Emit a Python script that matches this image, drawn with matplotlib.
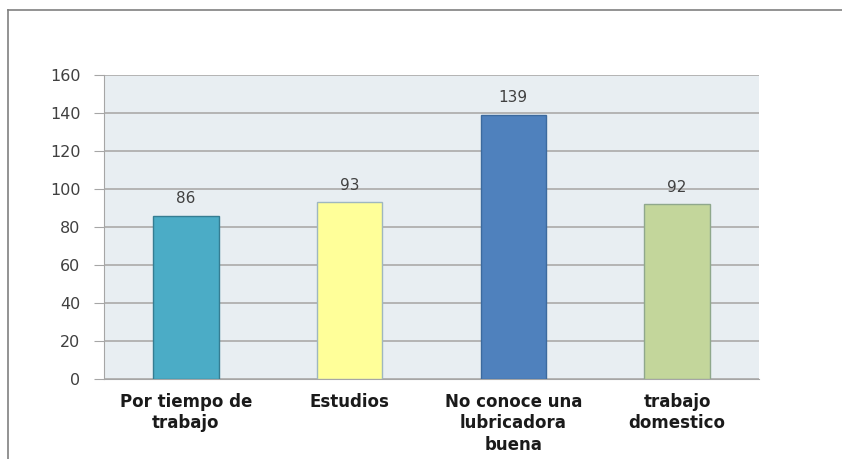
import matplotlib.pyplot as plt
from matplotlib.lines import Line2D

# categories and counts
categorias = ['Por tiempo de\ntrabajo', 'Estudios', 'No conoce una\nlubricadora\nbuena', 'trabajo\ndomestico']
valores = [86, 93, 139, 92]
colores = ['#4BACC6', '#FFFF99', '#4F81BD', '#C3D69B']
bordes = ['#357D92', '#9FB7BF', '#3C6A9E', '#8FA88C']
yticks = [0, 20, 40, 60, 80, 100, 120, 140, 160]

plt.rcParams['font.family'] = ['DejaVu Sans']

fig = plt.figure(figsize=(8.42, 4.59), dpi=100)
ax = fig.add_axes([104/842, 1 - 379/459, 655/842, 304/459])
ax.set_facecolor('#E8EEF2')

x = range(len(valores))
bars = ax.bar(x, valores, width=0.4, color=colores, edgecolor=bordes, linewidth=1, zorder=3)
for xi, v in zip(x, valores):
    ax.text(xi, v + 5, str(v), ha='center', va='bottom', fontsize=11, color='#404040')

ax.set_xlim(-0.5, 3.5)
ax.set_ylim(0, 160)
ax.set_yticks(yticks)
ax.grid(axis='y', color='#B4B4B4', linewidth=1.4, zorder=1)
ax.set_xticks(list(x))
ax.set_xticklabels(categorias, fontsize=12, fontweight='bold', color='#1A1A1A', linespacing=1.25)
ax.tick_params(axis='x', length=0, pad=10)
ax.tick_params(axis='y', length=7, color='#A6A6A6', labelsize=11.5, labelcolor='#404040', pad=10)
for s in ['top', 'right']:
    ax.spines[s].set_visible(False)
ax.spines['left'].set_color('#A6A6A6')
ax.spines['bottom'].set_color('#A6A6A6')

# outer frame lines (top and left)
fig.add_artist(Line2D([8/842, 1], [1 - 10/459, 1 - 10/459], color='#808080', linewidth=1.2))
fig.add_artist(Line2D([8/842, 8/842], [0, 1 - 10/459], color='#808080', linewidth=1.2))

fig.savefig('out.png', dpi=100)
